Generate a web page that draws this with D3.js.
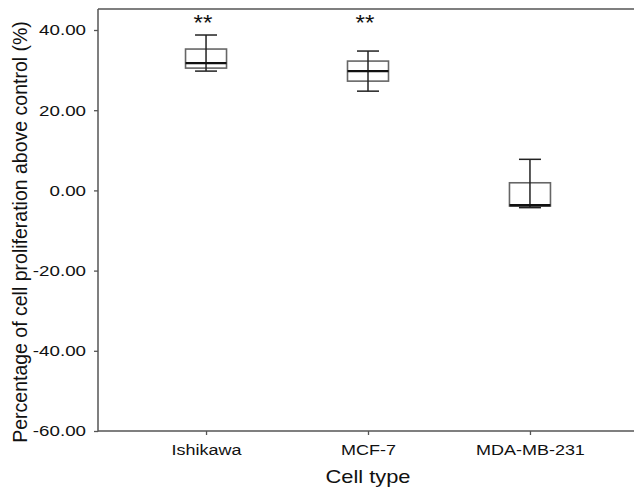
<!DOCTYPE html>
<html>
<head>
<meta charset="utf-8">
<script src="https://cdn.jsdelivr.net/npm/d3@7"></script>
<style>
    html, body { margin: 0; background: #fff; overflow: hidden; }
    svg { display: block; font-family: Arial, "Liberation Sans", sans-serif; }
</style>
</head>
<body>
<div id="chart"></div>
<script>
// === DATA ===
const categories = ['Ishikawa', 'MCF-7', 'MDA-MB-231']
const mins    = [29.75, 24.75, -4.3]
const q1s     = [30.5, 27.25, -3.9]
const medians = [31.75, 29.75, -3.7]
const q3s     = [35.25, 32.25, 1.9]
const maxs    = [38.75, 34.75, 7.75]
const marks   = ['**', '**', '']
const yTicks  = [-60, -40, -20, 0, 20, 40]
const yTop = 45.25

// === LAYOUT ===
const W = 634, H = 489
const left = 98, right = 638, bottom = 431

const svg = d3.select('#chart').append('svg')
    .attr('width', W)
    .attr('height', H)

const y = d3.scaleLinear().domain([-60, 40]).range([bottom, 30])
const x = d3.scalePoint().domain(categories).range([left, right]).padding(0.667)

const boxW = 41, capW = 22
const axisColor = '#555'
const fmt = (d) => d.toFixed(2)   // plain hyphen minus, like the original

// frame (top line, right edge is cut off)
svg.append('line')
    .attr('x1', left).attr('x2', W)
    .attr('y1', y(yTop)).attr('y2', y(yTop))
    .attr('stroke', axisColor).attr('stroke-width', 1.5)

// y axis
const yAxis = svg.append('g')
    .attr('transform', `translate(${left},0)`)
    .call(d3.axisLeft(y).tickValues(yTicks).tickSize(4).tickPadding(0).tickFormat(fmt))
yAxis.select('.domain').remove()
yAxis.selectAll('.tick line').attr('stroke', axisColor).attr('stroke-width', 1.3)
yAxis.selectAll('.tick text')
    .attr('fill', '#111')
    .attr('font-size', 15)
    .attr('x', null)
    .attr('transform', 'translate(-12,0) scale(1.25,1)')
svg.append('line')
    .attr('x1', left).attr('x2', left)
    .attr('y1', y(yTop)).attr('y2', bottom + 0.5)
    .attr('stroke', axisColor).attr('stroke-width', 1.5)

// x axis
const xAxis = svg.append('g')
    .attr('transform', `translate(0,${bottom})`)
    .call(d3.axisBottom(x).tickSize(4).tickPadding(0))
xAxis.select('.domain').remove()
xAxis.selectAll('.tick line').attr('stroke', axisColor).attr('stroke-width', 1.3)
xAxis.selectAll('.tick text')
    .attr('fill', '#111')
    .attr('font-size', 15.5)
    .attr('y', null).attr('dy', null)
    .attr('transform', 'translate(0,24) scale(1.16,1)')
svg.append('line')
    .attr('x1', left).attr('x2', W)
    .attr('y1', bottom).attr('y2', bottom)
    .attr('stroke', axisColor).attr('stroke-width', 1.5)

// axis titles
svg.append('text')
    .attr('transform', 'translate(368,483) scale(1.25,1)')
    .attr('text-anchor', 'middle')
    .attr('font-size', 17.5)
    .attr('fill', '#111')
    .text('Cell type')

svg.append('text')
    .attr('transform', 'translate(27,232) rotate(-90)')
    .attr('text-anchor', 'middle')
    .attr('font-size', 19.5)
    .attr('fill', '#111')
    .text('Percentage of cell proliferation above control (%)')

// === BOXES ===
const boxes = categories.map((c, i) => ({
    cat: c, min: mins[i], q1: q1s[i], med: medians[i], q3: q3s[i], max: maxs[i], mark: marks[i]
}))

const g = svg.append('g')
const b = g.selectAll('g.box').data(boxes).join('g').attr('class', 'box')

b.append('rect')
    .attr('x', d => x(d.cat) - boxW / 2)
    .attr('y', d => y(d.q3))
    .attr('width', boxW)
    .attr('height', d => y(d.q1) - y(d.q3))
    .attr('fill', 'none')
    .attr('stroke', '#666')
    .attr('stroke-width', 1.6)

b.append('line')
    .attr('x1', d => x(d.cat)).attr('x2', d => x(d.cat))
    .attr('y1', d => y(d.min)).attr('y2', d => y(d.max))
    .attr('stroke', '#222').attr('stroke-width', 1.5)

b.selectAll('line.cap')
    .data(d => [d.min, d.max].map(v => ({ cat: d.cat, v })))
    .join('line')
    .attr('class', 'cap')
    .attr('x1', d => x(d.cat) - capW / 2).attr('x2', d => x(d.cat) + capW / 2)
    .attr('y1', d => y(d.v)).attr('y2', d => y(d.v))
    .attr('stroke', '#222').attr('stroke-width', 1.5)

b.append('line')
    .attr('x1', d => x(d.cat) - boxW / 2).attr('x2', d => x(d.cat) + boxW / 2)
    .attr('y1', d => y(d.med)).attr('y2', d => y(d.med))
    .attr('stroke', '#111').attr('stroke-width', 2.4)

b.append('text')
    .attr('transform', d => `translate(${x(d.cat) - 3},30) scale(1.1,1)`)
    .attr('text-anchor', 'middle')
    .attr('font-size', 22)
    .attr('fill', '#111')
    .text(d => d.mark)
</script>
</body>
</html>
